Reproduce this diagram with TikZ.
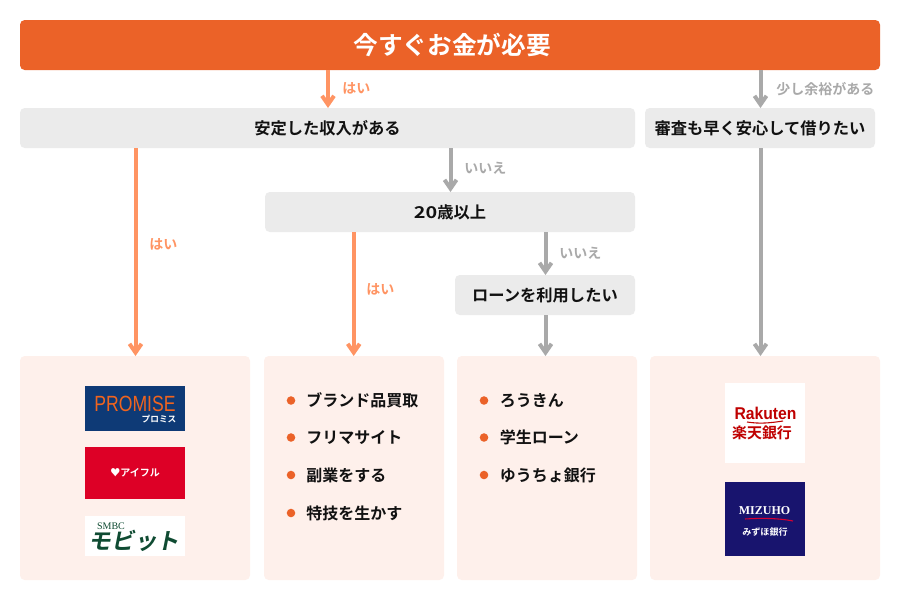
\documentclass[tikz,border=0pt]{standalone}
\usepackage{fontspec}
\setmainfont{Noto Sans CJK JP}
\newfontfamily\jpb{Noto Sans CJK JP Bold}
\newfontfamily\jpwide[FakeStretch=1.22]{Noto Sans CJK JP Bold}
\newfontfamily\mobitfont[FakeSlant=0.2]{Noto Sans CJK JP Bold}
\newfontfamily\lsans[FakeStretch=0.8]{Liberation Sans}
\newfontfamily\lsansb[FakeStretch=0.92]{Liberation Sans Bold}
\newfontfamily\lserif{Liberation Serif}
\newfontfamily\lserifb{Liberation Serif Bold}
\usetikzlibrary{arrows.meta,calc}
\definecolor{mainor}{HTML}{EB6228}
\definecolor{qgray}{HTML}{EBEBEB}
\definecolor{panelc}{HTML}{FEF0EB}
\definecolor{yesor}{HTML}{FF9463}
\definecolor{nogray}{HTML}{A9A9A9}
\definecolor{txt}{HTML}{111111}
\definecolor{pblue}{HTML}{0E3A76}
\definecolor{porange}{HTML}{F0641E}
\definecolor{ared}{HTML}{DD0026}
\definecolor{mgreen}{HTML}{0F4B32}
\definecolor{rred}{HTML}{BF0000}
\definecolor{znavy}{HTML}{18146E}
\definecolor{zred}{HTML}{D70032}
\tikzset{
  x=0.75pt,y=-0.75pt,
  boxbase/.style={inner sep=0pt,outer sep=0pt,rounded corners=3.5pt,anchor=north west},
  qbox/.style={boxbase,fill=qgray,font=\jpb\fontsize{12.2}{12.2}\selectfont,text=txt,align=center},
  panel/.style={boxbase,fill=panelc},
  yesarrow/.style={draw=yesor,line width=3pt,-{Straight Barb[length=6.5pt,width=9pt,line width=3pt]}},
  noarrow/.style={draw=nogray,line width=3pt,-{Straight Barb[length=6.5pt,width=9pt,line width=3pt]}},
  yeslab/.style={font=\jpb\fontsize{10.5}{10.5}\selectfont,text=yesor,inner sep=0pt},
  nolab/.style={font=\jpb\fontsize{10.5}{10.5}\selectfont,text=nogray,inner sep=0pt},
  item/.style={font=\jpb\fontsize{12}{12}\selectfont,text=txt,anchor=west,inner sep=0pt},
  dot/.style={circle,fill=mainor,minimum size=6.4pt,inner sep=0pt},
  logotext/.style={inner sep=0pt,outer sep=0pt},
}
\newcommand{\bx}[6]{\node[#1,minimum width=#4*0.75pt,minimum height=#5*0.75pt] (#2) at #3 {#6};}
\newcommand{\dropbit}[1]{\raisebox{-0.7pt}{#1}}
\begin{document}
\begin{tikzpicture}
\useasboundingbox (0,0) rectangle (900,600);
% boxes
\bx{boxbase,fill=mainor,text=white,font=\jpb\fontsize{18.5}{18.5}\selectfont}{main}{(20,20)}{860}{50}{\hspace{3pt}\dropbit{今すぐお金が必要}}
\bx{qbox}{qa}{(20,108)}{615}{40}{\dropbit{安定した収入がある}}
\bx{qbox}{qb}{(645,108)}{230}{40}{\dropbit{審査も早く安心して借りたい}}
\bx{qbox}{qc}{(265,192)}{370}{40}{{\jpwide 20}歳以上}
\bx{qbox}{qd}{(455,275)}{180}{40}{ローンを利用したい}
\bx{panel}{pa}{(20,356)}{230}{224}{}
\bx{panel}{pb}{(264,356)}{180}{224}{}
\bx{panel}{pc}{(457,356)}{180}{224}{}
\bx{panel}{pd}{(650,356)}{230}{224}{}
% connectors
\draw[yesarrow] (main.south -| 328,0) -- (qa.north -| 328,0);
\draw[noarrow] (main.south -| 760.5,0) -- (qb.north -| 760.5,0);
\draw[yesarrow] (qa.south -| 135.5,0) -- (pa.north -| 135.5,0);
\draw[noarrow] (qa.south -| 450.5,0) -- (qc.north -| 450.5,0);
\draw[noarrow] (qb.south -| 760.5,0) -- (pd.north -| 760.5,0);
\draw[yesarrow] (qc.south -| 353.7,0) -- (pb.north -| 353.7,0);
\draw[noarrow] (qc.south -| 545.5,0) -- (qd.north -| 545.5,0);
\draw[noarrow] (qd.south -| 545.5,0) -- (pc.north -| 545.5,0);
% labels
\node[yeslab,anchor=west] (la) at (342,88) {はい};
\node[nolab,anchor=west] (lb) at (776,89) {少し余裕がある};
\node[yeslab,anchor=west] (lc) at (149,244) {はい};
\node[nolab,anchor=west] (ld) at (464,168) {いいえ};
\node[yeslab,anchor=west] (le) at (366,289) {はい};
\node[nolab,anchor=west] (lf) at (559,253) {いいえ};
% middle lists
\foreach \n/\y/\t in {1/400.5/ブランド品買取,2/437.5/フリマサイト,3/475/副業をする,4/513/特技を生かす}{
  \node[dot] (db\n) at (291,\y) {};
  \node[item] (tb\n) at (306,\y) {\t};
}
\foreach \n/\y/\t in {1/400.5/ろうきん,2/437.5/学生ローン,3/475/ゆうちょ銀行}{
  \node[dot] (dc\n) at (484,\y) {};
  \node[item] (tc\n) at (499.5,\y) {\t};
}
% logos
\fill[white] (85,516) rectangle (185,556);
\fill[white] (725,383) rectangle (805,463);
\fill[pblue] (85,386) rectangle (185,431);
\fill[ared] (85,447) rectangle (185,499);
\fill[znavy] (725,482) rectangle (805,556);
\node[logotext,text=porange,font=\lsans\fontsize{16.5}{16.5}\selectfont] (lp1) at (135,404) {PROMISE};
\node[logotext,text=white,font=\jpb\fontsize{6.5}{6.5}\selectfont] (lp2) at (159,419) {プロミス};
\node[logotext,text=white,font=\jpb\fontsize{7.5}{7.5}\selectfont] (la1) at (135,473) {♥アイフル};
\node[logotext,text=mgreen,font=\lserif\fontsize{7.5}{7.5}\selectfont] (lm1) at (111,526) {SMBC};
\node[logotext,text=mgreen,font=\mobitfont\fontsize{17}{17}\selectfont] (lm2) at (134,541) {モビット};
\node[logotext,text=rred,font=\lsansb\fontsize{12.8}{12.8}\selectfont] (lr1) at (765.5,413) {Rakuten};
\node[logotext,text=rred,font=\jpb\fontsize{11.2}{11.2}\selectfont] (lr2) at (762,433) {楽天銀行};
\draw[rred,line width=0.8pt] (747,422) .. controls (760,424) and (770,423) .. (783,421);
\node[logotext,text=white,font=\lserifb\fontsize{9}{9}\selectfont] (lz1) at (764.5,511) {MIZUHO};
\draw[zred,line width=0.8pt] (745,519) .. controls (760,518) and (778,518) .. (793,521);
\node[logotext,text=white,font=\jpb\fontsize{6.8}{6.8}\selectfont] (lz2) at (765,532) {みずほ銀行};
\end{tikzpicture}
\end{document}
